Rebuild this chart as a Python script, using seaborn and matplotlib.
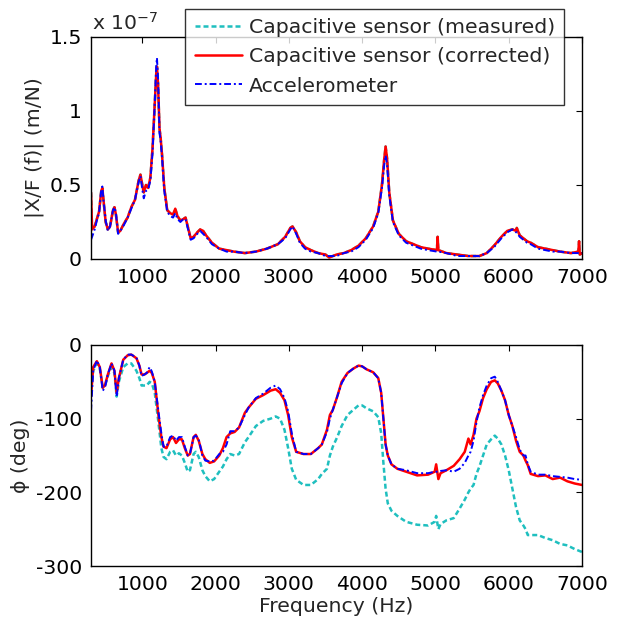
import numpy as np
import pandas as pd
import matplotlib
matplotlib.use("Agg")
import matplotlib.pyplot as plt
from matplotlib.ticker import FuncFormatter
import seaborn as sns

sns.set_style("white")
plt.rcParams['font.family'] = ['DejaVu Sans']
plt.rcParams['axes.unicode_minus'] = False

# ---------------- data (magnitude in units of 1e-7 m/N) ----------------
mag_freq = [300, 315, 350, 380, 410, 440, 455, 470, 500, 530, 560, 600, 620, 640, 670, 700, 750, 800,
            850, 900, 950, 975, 1000, 1020, 1050, 1080, 1110, 1140, 1170, 1190, 1200, 1215, 1235,
            1250, 1270, 1300, 1340, 1380, 1420, 1450, 1480, 1520, 1560, 1590, 1620, 1660, 1700,
            1750, 1790, 1830, 1870, 1950, 2050, 2150, 2250, 2400, 2550, 2700, 2850, 2950, 3020,
            3050, 3100, 3150, 3220, 3300, 3400, 3500, 3550, 3650, 3750, 3850, 3950, 4050, 4150,
            4220, 4270, 4300, 4320, 4340, 4370, 4420, 4500, 4600, 4700, 4800, 4900, 5020, 5030,
            5040, 5150, 5300, 5450, 5600, 5700, 5800, 5900, 5980, 6050, 6100, 6110, 6150, 6250,
            6300, 6400, 6500, 6600, 6700, 6850, 6950, 6960, 6970, 7000]
mag_corrected = [0.45, 0.20, 0.22, 0.27, 0.32, 0.46, 0.48, 0.40, 0.25, 0.20, 0.22, 0.33, 0.35, 0.30,
                 0.18, 0.19, 0.24, 0.28, 0.35, 0.40, 0.53, 0.57, 0.50, 0.45, 0.50, 0.48, 0.55, 0.75,
                 1.05, 1.25, 1.30, 1.18, 0.88, 0.82, 0.70, 0.48, 0.33, 0.31, 0.30, 0.34, 0.29, 0.26,
                 0.27, 0.28, 0.22, 0.14, 0.15, 0.18, 0.20, 0.19, 0.16, 0.11, 0.07, 0.06, 0.05, 0.04,
                 0.05, 0.07, 0.10, 0.15, 0.21, 0.22, 0.18, 0.12, 0.08, 0.06, 0.04, 0.03, 0.01, 0.03,
                 0.04, 0.06, 0.09, 0.14, 0.22, 0.32, 0.50, 0.67, 0.76, 0.68, 0.45, 0.26, 0.17, 0.12,
                 0.10, 0.08, 0.07, 0.06, 0.15, 0.06, 0.04, 0.03, 0.02, 0.02, 0.04, 0.09, 0.15, 0.19,
                 0.20, 0.19, 0.21, 0.16, 0.12, 0.11, 0.08, 0.07, 0.06, 0.05, 0.04, 0.05, 0.12, 0.03,
                 0.04]
mag_measured = list(mag_corrected)
mag_accel = [0.13, 0.15, 0.20, 0.26, 0.31, 0.47, 0.49, 0.40, 0.26, 0.19, 0.22, 0.33, 0.35, 0.31,
             0.17, 0.19, 0.23, 0.28, 0.34, 0.40, 0.52, 0.56, 0.47, 0.41, 0.46, 0.47, 0.53, 0.72,
             1.05, 1.30, 1.36, 1.22, 0.85, 0.80, 0.68, 0.46, 0.32, 0.29, 0.28, 0.31, 0.27, 0.25,
             0.27, 0.27, 0.21, 0.13, 0.14, 0.17, 0.19, 0.17, 0.15, 0.10, 0.07, 0.05, 0.05, 0.04,
             0.05, 0.07, 0.10, 0.14, 0.20, 0.22, 0.17, 0.11, 0.07, 0.05, 0.04, 0.02, 0.02, 0.02,
             0.04, 0.05, 0.08, 0.13, 0.21, 0.31, 0.48, 0.63, 0.70, 0.64, 0.43, 0.25, 0.16, 0.11,
             0.09, 0.07, 0.06, 0.05, 0.05, 0.05, 0.04, 0.02, 0.02, 0.02, 0.04, 0.08, 0.14, 0.18,
             0.20, 0.18, 0.18, 0.15, 0.11, 0.10, 0.07, 0.06, 0.05, 0.05, 0.04, 0.04, 0.04, 0.04,
             0.04]

# ---------------- data (phase in deg) ----------------
ph_freq = [300, 330, 380, 420, 460, 490, 530, 580, 620, 650, 680, 740, 800, 850, 920, 960, 990, 1030,
           1060, 1100, 1130, 1170, 1220, 1260, 1290, 1330, 1380, 1420, 1460, 1500, 1540, 1580, 1620,
           1650, 1700, 1730, 1770, 1820, 1860, 1920, 1980, 2050, 2100, 2150, 2200, 2260, 2320, 2400,
           2450, 2550, 2650, 2750, 2820, 2880, 2940, 2990, 3040, 3100, 3200, 3300, 3400, 3450, 3520,
           3560, 3600, 3660, 3720, 3800, 3880, 3950, 4000, 4060, 4150, 4220, 4260, 4290, 4320, 4350,
           4400, 4480, 4600, 4750, 4900, 4990, 5010, 5040, 5070, 5150, 5250, 5330, 5400, 5450, 5480,
           5520, 5560, 5600, 5650, 5700, 5760, 5810, 5850, 5900, 5950, 6000, 6050, 6100, 6150, 6200,
           6230, 6260, 6300, 6400, 6500, 6600, 6700, 6800, 6900, 7000]
ph_corrected = [-70, -30, -22, -30, -58, -55, -40, -25, -35, -65, -45, -20, -14, -13, -18, -28, -40,
                -40, -38, -35, -38, -50, -95, -125, -138, -140, -128, -125, -133, -128, -128, -140,
                -150, -148, -125, -122, -130, -148, -155, -160, -158, -150, -140, -125, -120, -118,
                -112, -92, -85, -73, -68, -62, -60, -65, -75, -95, -125, -145, -148, -148, -140, -135,
                -115, -95, -88, -70, -50, -38, -32, -28, -29, -33, -37, -45, -65, -100, -135, -150,
                -162, -168, -172, -177, -176, -172, -162, -182, -174, -170, -164, -155, -145, -127,
                -135, -122, -100, -90, -72, -60, -50, -48, -52, -62, -75, -95, -110, -130, -145, -150,
                -157, -163, -175, -178, -177, -182, -180, -185, -188, -190]
ph_accel = [-90, -35, -21, -30, -62, -58, -40, -25, -35, -70, -45, -20, -13, -13, -17, -28, -42,
            -40, -38, -30, -36, -50, -90, -120, -138, -138, -125, -123, -130, -125, -125, -138,
            -150, -148, -125, -123, -128, -150, -157, -158, -157, -148, -145, -135, -117, -117,
            -112, -95, -85, -72, -66, -58, -55, -60, -72, -90, -120, -145, -148, -148, -140, -135,
            -118, -100, -88, -70, -52, -38, -32, -28, -29, -33, -37, -45, -65, -100, -135, -150,
            -162, -168, -170, -174, -174, -172, -172, -172, -171, -170, -172, -168, -160, -150,
            -145, -130, -105, -85, -68, -55, -45, -43, -50, -62, -75, -95, -110, -125, -142, -150,
            -150, -162, -172, -176, -176, -178, -179, -180, -182, -183]
ph_measured = [-60, -35, -25, -32, -58, -56, -42, -30, -38, -70, -50, -30, -25, -25, -35, -45, -55,
               -55, -55, -50, -52, -65, -105, -140, -152, -155, -145, -143, -150, -147, -150, -160,
               -172, -170, -148, -145, -152, -170, -178, -185, -182, -172, -165, -155, -148, -150,
               -148, -132, -125, -110, -103, -100, -97, -100, -115, -140, -168, -183, -190, -190,
               -182, -175, -168, -150, -138, -125, -110, -95, -88, -82, -82, -86, -90, -98, -120,
               -160, -195, -215, -225, -232, -240, -244, -245, -240, -232, -250, -243, -238, -235,
               -222, -210, -200, -195, -190, -175, -165, -150, -135, -128, -123, -127, -135, -150,
               -170, -195, -220, -238, -245, -250, -258, -258, -258, -262, -265, -270, -272, -277,
               -281]

labels = ['Capacitive sensor (measured)', 'Capacitive sensor (corrected)', 'Accelerometer']
colors = ['#1fbfbf', '#ff0000', '#0000ff']
styles = [dict(linestyle=(0, (2.0, 1.2)), linewidth=1.8),
          dict(linestyle='-', linewidth=1.8),
          dict(linestyle=(0, (3.5, 1.5, 1, 1.5)), linewidth=1.4)]

fig = plt.figure(figsize=(6.18, 6.26), dpi=100)
ax1 = fig.add_axes([91/618, (626-259)/626, 491/618, 222/626])
ax2 = fig.add_axes([91/618, (626-566)/626, 491/618, 221/626])

mag_series = [mag_measured, mag_corrected, mag_accel]
ph_series = [ph_measured, ph_corrected, ph_accel]

for vals, lab, col, st in zip(mag_series, labels, colors, styles):
    df = pd.DataFrame({'f': mag_freq, 'v': vals})
    sns.lineplot(data=df, x='f', y='v', ax=ax1, color=col, label=lab, sort=False,
                 estimator=None, **st)
for vals, lab, col, st in zip(ph_series, labels, colors, styles):
    df = pd.DataFrame({'f': ph_freq, 'v': vals})
    sns.lineplot(data=df, x='f', y='v', ax=ax2, color=col, sort=False,
                 estimator=None, legend=False, **st)

fs = 14.7
fmt = FuncFormatter(lambda v, p: ('%g' % v))
for ax in (ax1, ax2):
    ax.set_xlim(300, 7000)
    ax.set_xticks([1000, 2000, 3000, 4000, 5000, 6000, 7000])
    ax.tick_params(direction='in', top=True, right=True, length=4, width=0.8,
                   labelsize=fs, pad=6.5, colors='black')
    ax.yaxis.set_major_formatter(fmt)
    ax.set_xlabel('')
    for s in ax.spines.values():
        s.set_color('black')
        s.set_linewidth(1.0)
    ax.grid(False)

ax1.set_ylim(0, 1.5)
ax1.set_yticks([0, 0.5, 1, 1.5])
ax1.set_ylabel('|X/F (f)| (m/N)', fontsize=fs, labelpad=4)
ax2.set_ylim(-300, 0)
ax2.set_yticks([-300, -200, -100, 0])
ax2.set_ylabel('ϕ (deg)', fontsize=fs, labelpad=4)
ax2.set_xlabel('Frequency (Hz)', fontsize=fs, labelpad=2)

fig.text(92/618, 1 - 30/626, r'x 10$^{\mathregular{-7}}$', fontsize=fs, ha='left', va='baseline')

leg = ax1.legend(loc='upper right', bbox_to_anchor=((564-91)/491, (259-9)/222),
                 borderaxespad=0, fontsize=fs, frameon=True, fancybox=False,
                 handlelength=2.3, handletextpad=0.35, borderpad=0.45, labelspacing=0.5)
leg.get_frame().set_edgecolor('black')
leg.get_frame().set_linewidth(1.0)
leg.set_zorder(10)

fig.savefig('out.png', dpi=100, facecolor='white')
